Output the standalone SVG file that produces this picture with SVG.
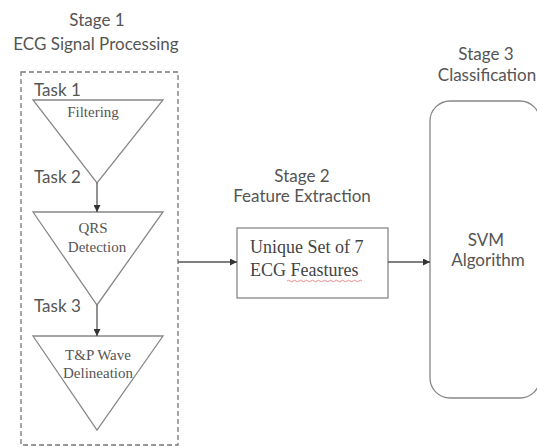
<svg xmlns="http://www.w3.org/2000/svg" width="537" height="447" viewBox="0 0 537 447">
<style>
.title{font-family:Lato,"Liberation Sans",sans-serif;font-size:17px;fill:#555;text-anchor:middle}
.task{font-family:Lato,"Liberation Sans",sans-serif;font-size:17px;fill:#555}
.serif{font-family:"Liberation Serif","DejaVu Serif",serif;font-size:15px;fill:#555;text-anchor:middle}
.boxt{font-family:"Liberation Serif","DejaVu Serif",serif;font-size:18px;fill:#444}
.shape{fill:#fff;stroke:#888;stroke-width:1.3}
.line{stroke:#555;stroke-width:1.3;fill:none}
</style>
<defs>
<marker id="ah" viewBox="0 0 10 10" refX="10" refY="5" markerWidth="7" markerHeight="7" orient="auto" markerUnits="userSpaceOnUse"><path d="M0,0 L10,5 L0,10 z" fill="#333"/></marker>
</defs>
<rect width="537" height="447" fill="#fff"/>
<g id="stage1">
<text class="title" x="97" y="26">Stage 1</text>
<text class="title" x="96" y="50">ECG Signal Processing</text>
<rect x="21" y="72" width="157" height="373" fill="none" stroke="#777" stroke-width="1.3" stroke-dasharray="5,3"/>
</g>
<g id="task1">
<text class="task" x="34" y="96">Task 1</text>
<polygon class="shape" points="33,100 163,100 97,183"/>
<text class="serif" x="93" y="117">Filtering</text>
</g>
<g id="task2">
<text class="task" x="34" y="183">Task 2</text>
<polygon class="shape" points="33,212 163,212 97,305"/>
<text class="serif" x="93" y="233">QRS</text>
<text class="serif" x="97" y="252">Detection</text>
</g>
<g id="task3">
<text class="task" x="34" y="312">Task 3</text>
<polygon class="shape" points="33,336 163,336 97,430"/>
<text class="serif" x="98" y="360">T&amp;P Wave</text>
<text class="serif" x="98" y="378">Delineation</text>
</g>
<g id="stage2">
<text class="title" x="302" y="182">Stage 2</text>
<text class="title" x="302" y="202">Feature Extraction</text>
<rect class="shape" x="237" y="228" width="151" height="70"/>
<text class="boxt" x="250" y="253">Unique Set of 7</text>
<text class="boxt" x="250" y="276">ECG Feastures</text>
<path d="M 287 281 q 1.5 -1.5 3 0 t 3 0 t 3 0 t 3 0 t 3 0 t 3 0 t 3 0 t 3 0 t 3 0 t 3 0 t 3 0 t 3 0 t 3 0 t 3 0 t 3 0 t 3 0 t 3 0 t 3 0 t 3 0 t 3 0 t 3 0 t 3 0 t 3 0 t 3 0 t 3 0" fill="none" stroke="#e07070" stroke-width="0.8"/>
</g>
<g id="stage3">
<text class="title" x="486" y="60">Stage 3</text>
<text class="title" x="487" y="81">Classification</text>
<rect class="shape" x="430" y="101" width="110" height="297" rx="20" ry="20"/>
<text class="title" x="486" y="246">SVM</text>
<text class="title" x="488" y="266">Algorithm</text>
</g>
<g id="connectors">
<line class="line" x1="97" y1="183" x2="97" y2="212" marker-end="url(#ah)"/>
<line class="line" x1="97" y1="305" x2="97" y2="336" marker-end="url(#ah)"/>
<line class="line" x1="178" y1="262" x2="237" y2="262" marker-end="url(#ah)"/>
<line class="line" x1="388" y1="262" x2="430" y2="262" marker-end="url(#ah)"/>
</g>
</svg>
